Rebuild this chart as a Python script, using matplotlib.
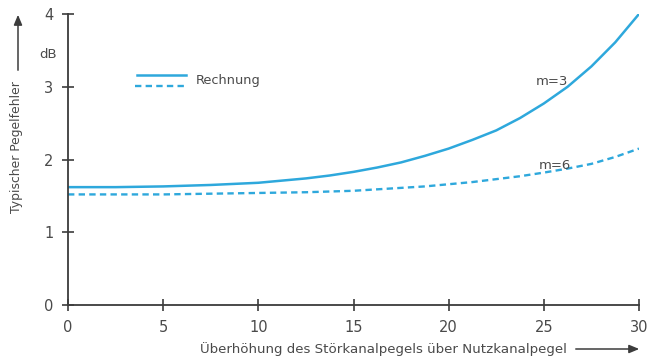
import matplotlib
matplotlib.use("Agg")
import matplotlib.pyplot as plt
from matplotlib.patches import FancyArrowPatch

# Überhöhung des Störkanalpegels über Nutzkanalpegel (dB)
x_db = [0, 1.25, 2.5, 3.75, 5, 6.25, 7.5, 8.75, 10, 11.25, 12.5, 13.75, 15,
        16.25, 17.5, 18.75, 20, 21.25, 22.5, 23.75, 25, 26.25, 27.5, 28.75, 30]
# typischer Pegelfehler (dB), Rechnung
err_m3 = [1.62, 1.62, 1.62, 1.625, 1.63, 1.64, 1.65, 1.665, 1.68, 1.71, 1.74,
          1.78, 1.83, 1.89, 1.96, 2.05, 2.15, 2.27, 2.40, 2.57, 2.77, 3.00,
          3.28, 3.61, 4.0]
err_m6 = [1.52, 1.52, 1.52, 1.52, 1.52, 1.525, 1.53, 1.535, 1.54, 1.545, 1.55,
          1.56, 1.57, 1.59, 1.61, 1.63, 1.66, 1.69, 1.73, 1.77, 1.82, 1.875,
          1.94, 2.035, 2.15]

x_ticks = [0, 5, 10, 15, 20, 25, 30]
y_ticks = [0, 1, 2, 3, 4]

BLUE = "#2ea8dc"
INK = "#4a4a4a"
AXC = "#3c3c3c"
DASH = (2.7, 1.8)

plt.rcParams['font.family'] = ['DejaVu Sans']

W, H = 649, 358
fig = plt.figure(figsize=(W / 100, H / 100), dpi=100)
fig.patch.set_facecolor("white")
ax = fig.add_axes([68 / W, 53 / H, (639 - 68) / W, (344 - 53) / H])

ax.plot(x_db, err_m3, color=BLUE, lw=1.8, solid_capstyle="round",
        solid_joinstyle="round")
ax.plot(x_db, err_m6, color=BLUE, lw=1.7, dashes=DASH)

ax.set_xlim(0, 30)
ax.set_ylim(0, 4)
for s in ("top", "right"):
    ax.spines[s].set_visible(False)
for s in ("left", "bottom"):
    ax.spines[s].set_color(AXC)
    ax.spines[s].set_linewidth(1.3)
ax.set_xticks(x_ticks)
ax.set_yticks(y_ticks)
ax.tick_params(direction="inout", length=9, width=1.2, color=AXC,
               labelcolor=INK, labelsize=10.5, pad=6)

# legend drawn by hand
ax.plot([3.6, 6.2], [3.16, 3.16], color=BLUE, lw=1.8, clip_on=False)
ax.plot([3.5, 6.2], [3.01, 3.01], color=BLUE, lw=1.7, dashes=DASH, clip_on=False)
ax.text(6.7, 3.09, "Rechnung", color=INK, fontsize=9.3, va="center", ha="left")

ax.text(25.4, 3.07, "m=3", color=INK, fontsize=9.5, ha="center", va="center")
ax.text(25.6, 1.92, "m=6", color=INK, fontsize=9.5, ha="center", va="center")

# unit label on y axis
fig.text(48 / W, 1 - 54 / H, "dB", color=INK, fontsize=9.5, ha="center", va="center")

# axis titles with arrows
fig.text(383 / W, 1 - 349 / H, "Überhöhung des Störkanalpegels über Nutzkanalpegel",
         color=INK, fontsize=9.6, ha="center", va="center")
fig.add_artist(FancyArrowPatch(
    (573 / W, 1 - 349 / H), (642 / W, 1 - 349 / H), transform=fig.transFigure,
    arrowstyle="-|>,head_length=6,head_width=2.5", color=AXC, lw=1.1))

fig.text(17 / W, 1 - 147 / H, "Typischer Pegelfehler", color=INK, fontsize=8.9,
         rotation=90, ha="center", va="center")
fig.add_artist(FancyArrowPatch(
    (18 / W, 1 - 73 / H), (18 / W, 1 - 12 / H), transform=fig.transFigure,
    arrowstyle="-|>,head_length=6,head_width=2.5", color=AXC, lw=1.1))

fig.savefig("out.png", dpi=100, facecolor="white")
